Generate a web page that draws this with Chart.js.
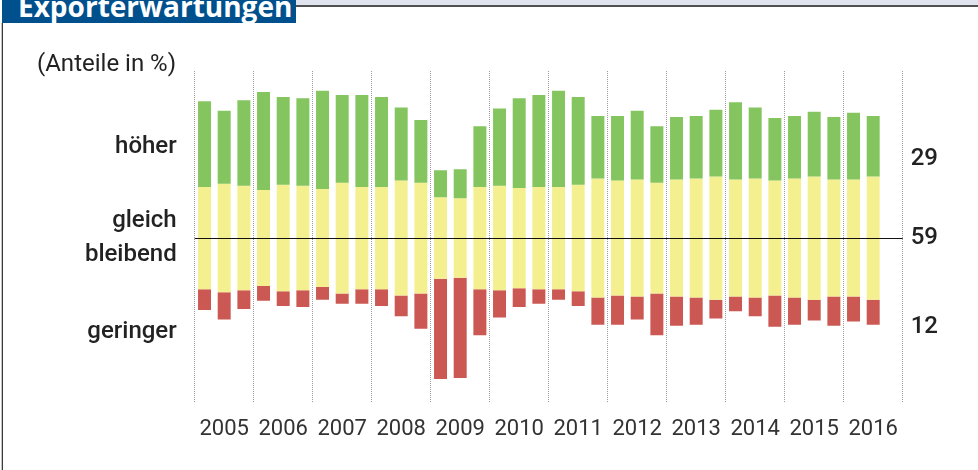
<!DOCTYPE html>
<html>
<head>
<meta charset="utf-8">
<title>Exporterwartungen</title>
<script src="https://cdn.jsdelivr.net/npm/chart.js@4.4.1/dist/chart.umd.min.js"></script>
<style>
  body { margin: 0; background: #fff; }
  #wrap { position: relative; width: 978px; height: 470px; overflow: hidden; }
  #chart { position: absolute; left: 0; top: 0; }
  .titlebox { position: absolute; left: 2px; top: 0; width: 294px; height: 23px; background: #00508e; overflow: hidden; }
  .titlebox span { position: absolute; left: 16px; top: -13px; line-height: 28px; font: 700 28px "Open Sans", sans-serif; color: #fff; white-space: nowrap; }
  .topstrip { position: absolute; left: 296px; top: 0; width: 682px; height: 5px; background: #dfe4ee; border-bottom: 2px solid #505050; }
  .leftline { position: absolute; left: 2px; top: 23px; width: 1px; height: 447px; background: #3a3a3a; border-left: 1px solid #c4c4c4; margin-left: -1px; }
  .unit { position: absolute; left: 37px; top: 49px; line-height: 24px; font: 400 24px Roboto, sans-serif; color: #222; }
</style>
</head>
<body>
<div id="wrap">
  <canvas id="chart" width="978" height="470"></canvas>
  <div class="titlebox"><span>Exporterwartungen</span></div>
  <div class="topstrip"></div>
  <div class="leftline"></div>
  <div class="unit">(Anteile in %)</div>
</div>
<script>
// Umfragen: drei je Jahr, 2016 nur zwei
const years = [2005, 2006, 2007, 2008, 2009, 2010, 2011, 2012, 2013, 2014, 2015, 2016];
const hoeher = [41, 35, 41, 47, 42, 42, 47, 42, 44, 43, 35, 30, 13, 14, 29, 37, 43, 44,
                46, 42, 30, 31, 33, 27, 30, 30, 32, 37, 34, 30, 30, 31, 30, 32, 29];
const gleich = [49, 52, 50, 46, 51, 50, 47, 53, 49, 49, 55, 53, 39, 38, 49, 50, 48, 49,
                49, 51, 57, 55, 56, 53, 56, 57, 59, 56, 57, 55, 57, 59, 56, 56, 59];
const geringer = [10, 13, 9, 7, 7, 8, 6, 5, 7, 8, 10, 17, 48, 48, 22, 13, 9, 7,
                  5, 7, 13, 14, 11, 20, 14, 13, 9, 7, 9, 15, 13, 10, 14, 12, 12];
const seriesLabels = ['höher', ['gleich', 'bleibend'], 'geringer'];

const labels = [];
years.forEach(y => { for (let k = 1; k <= 3; k++) labels.push(y + ' ' + k); });

// gleich bleibend um die Nulllinie zentriert
const yellowData = gleich.map(g => [-g / 2, g / 2]);
const greenData = hoeher.map((h, i) => [gleich[i] / 2, gleich[i] / 2 + h]);
const redData = geringer.map((r, i) => [-gleich[i] / 2 - r, -gleich[i] / 2]);

const last = hoeher.length - 1;
const rightValues = [hoeher[last], gleich[last], geringer[last]];

const tickFont = { family: 'Roboto, sans-serif', size: 22 };
const labelFont = { family: 'Roboto, sans-serif', size: 24, weight: '500', lineHeight: 1.4 };

// durchgezogene Nulllinie über den Balken
const zeroLine = {
    id: 'zeroLine',
    afterDatasetsDraw(chart) {
        const { ctx, chartArea: a } = chart;
        const py = Math.round(chart.scales.y.getPixelForValue(0)) + 0.5;
        ctx.save();
        ctx.setLineDash([]);
        ctx.strokeStyle = '#111';
        ctx.lineWidth = 1;
        ctx.beginPath();
        ctx.moveTo(a.left, py);
        ctx.lineTo(a.right, py);
        ctx.stroke();
        ctx.restore();
    }
};

const ctx = document.getElementById('chart').getContext('2d');
new Chart(ctx, {
    type: 'bar',
    data: {
        labels: labels,
        datasets: [
            { label: 'höher', data: greenData, backgroundColor: '#85c55f' },
            { label: 'gleich bleibend', data: yellowData, backgroundColor: '#f5f08f' },
            { label: 'geringer', data: redData, backgroundColor: '#cb5852' }
        ]
    },
    options: {
        responsive: false,
        animation: false,
        layout: { padding: { top: 71, left: 0, right: 0, bottom: 0 } },
        datasets: { bar: { barPercentage: 0.66, categoryPercentage: 1.0 } },
        plugins: { legend: { display: false }, tooltip: { enabled: false } },
        scales: {
            x: {
                stacked: true,
                offset: true,
                afterFit: (s) => { s.height = 67; },
                grid: {
                    offset: true,
                    drawTicks: false,
                    lineWidth: 1,
                    color: (c) => (c.index === undefined || c.index % 3 === 0) ? '#9a9a9a' : 'transparent'
                },
                border: { display: false, dash: [1, 1] },
                ticks: {
                    autoSkip: false,
                    minRotation: 0,
                    maxRotation: 0,
                    padding: 13,
                    color: '#333',
                    font: tickFont,
                    callback: (v, i) => i % 3 === 1 ? String(years[Math.floor(i / 3)]) : ''
                }
            },
            y: {
                min: -79,
                max: 80,
                afterFit: (s) => { s.width = 194.7; },
                afterBuildTicks: (s) => { s.ticks = [{ value: 43.5 }, { value: 0 }, { value: -45 }]; },
                grid: { display: false, drawTicks: false },
                border: { display: false },
                ticks: {
                    padding: 18,
                    color: '#222',
                    font: labelFont,
                    callback: (v, i) => seriesLabels[i]
                }
            },
            y2: {
                position: 'right',
                min: -79,
                max: 80,
                afterFit: (s) => { s.width = 75.3; },
                afterBuildTicks: (s) => { s.ticks = [{ value: 38 }, { value: 0 }, { value: -42.8 }]; },
                grid: { display: false, drawTicks: false },
                border: { display: false },
                ticks: {
                    padding: 8,
                    color: '#222',
                    font: { family: 'Roboto, sans-serif', size: 24, weight: '500' },
                    callback: (v, i) => String(rightValues[i])
                }
            }
        }
    },
    plugins: [zeroLine]
});
</script>
</body>
</html>
